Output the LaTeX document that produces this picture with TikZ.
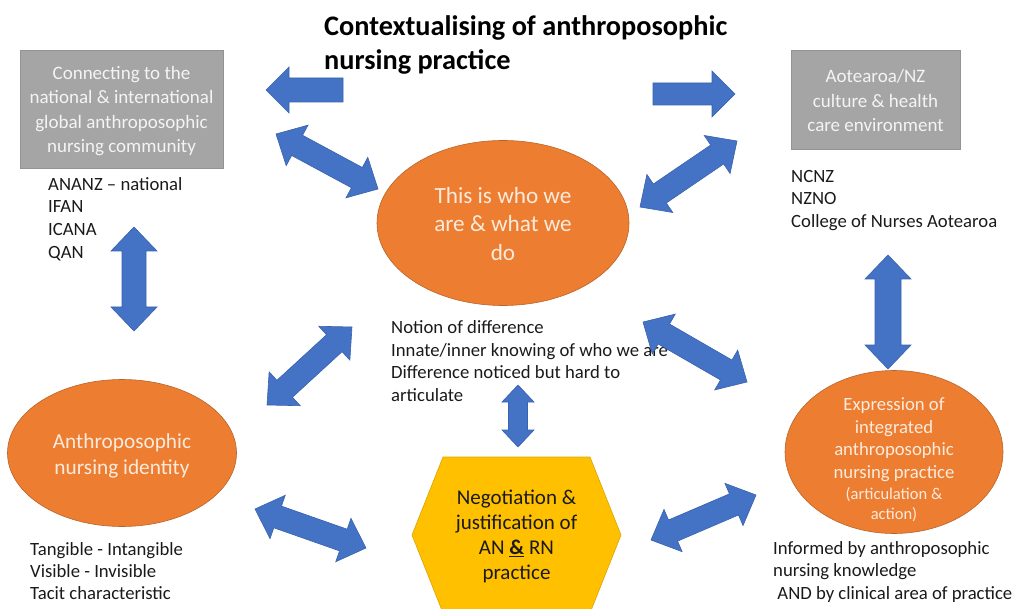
\documentclass[tikz,border=0pt]{standalone}
\usepackage{fontspec}
\setmainfont{Carlito}
\usetikzlibrary{shapes.geometric,calc}

\definecolor{arrowblue}{HTML}{4472C4}
\definecolor{arrowedge}{HTML}{3A62AE}
\definecolor{orangefill}{HTML}{ED7D31}
\definecolor{orangeedge}{HTML}{B8652A}
\definecolor{greyfill}{HTML}{A5A5A5}
\definecolor{greyedge}{HTML}{939393}
\definecolor{hexfill}{HTML}{FFC000}
\definecolor{hexedge}{HTML}{D9A400}
\definecolor{lighttext}{HTML}{F4F4F4}
\definecolor{creamtext}{HTML}{FBEBDD}
\definecolor{bodytext}{HTML}{1A1A1A}

% double-headed block arrow between two named points:
% #1,#2 ends, #3 head length, #4 head half-width, #5 shaft half-width
\newcommand\blockdbl[5]{%
  \path[blockarrow] (#1)
    -- ($(#1)!#3!(#2)!#4!90:(#2)$)
    -- ($(#1)!#3!(#2)!#5!90:(#2)$)
    -- ($(#2)!#3!(#1)!#5!-90:(#1)$)
    -- ($(#2)!#3!(#1)!#4!-90:(#1)$)
    -- (#2)
    -- ($(#2)!#3!(#1)!#4!90:(#1)$)
    -- ($(#2)!#3!(#1)!#5!90:(#1)$)
    -- ($(#1)!#3!(#2)!#5!-90:(#2)$)
    -- ($(#1)!#3!(#2)!#4!-90:(#2)$)
    -- cycle;}
% single-headed block arrow from tail #1 to tip #2
\newcommand\blocksgl[5]{%
  \path[blockarrow] ($(#1)!#5!90:(#2)$)
    -- ($(#2)!#3!(#1)!#5!-90:(#1)$)
    -- ($(#2)!#3!(#1)!#4!-90:(#1)$)
    -- (#2)
    -- ($(#2)!#3!(#1)!#4!90:(#1)$)
    -- ($(#2)!#3!(#1)!#5!90:(#1)$)
    -- ($(#1)!#5!-90:(#2)$)
    -- cycle;}

\tikzset{
  blockarrow/.style={fill=arrowblue, draw=arrowedge, line width=0.6pt, line join=miter},
  greybox/.style={rectangle, fill=greyfill, draw=greyedge, line width=0.6pt,
    text=lighttext, align=center, inner sep=0pt,
    font=\fontsize{19}{24.3}\selectfont},
  orangeoval/.style={ellipse, fill=orangefill, draw=orangeedge, line width=0.6pt,
    text=creamtext, align=center, inner sep=0pt},
  hexshape/.style={fill=hexfill, draw=hexedge, line width=0.6pt},
  listtext/.style={anchor=west, align=left, inner sep=0pt, text=bodytext,
    font=\fontsize{18.7}{22.8}\selectfont},
}

\begin{document}
\begin{tikzpicture}[x=1pt, y=-1pt]
\useasboundingbox (0,0) rectangle (1019,609);

% title
\node (title) [anchor=west, align=left, inner sep=0pt,
  font=\bfseries\fontsize{28.3}{34}\selectfont] at (324,45)
  {Contextualising of anthroposophic\\nursing practice};

% outer context boxes
\node (global) [greybox, minimum width=203pt, minimum height=118pt] at (121.5,109) {};
\node (globaltext) [greybox, draw=none, fill=none] at (121.5,111)
  {Connecting to the\\national \& international\\global anthroposophic\\nursing community};
\node (nz) [greybox, minimum width=169pt, minimum height=99pt] at (875.5,99.5) {};
\node (nztext) [greybox, draw=none, fill=none] at (875.5,100.5)
  {Aotearoa/NZ\\culture \& health\\care environment};

\node (globallist) [listtext] at (48,219)
  {ANANZ -- national\\IFAN\\ICANA\\QAN};
\node (nzlist) [listtext] at (791,200.5)
  {NCNZ\\NZNO\\College of Nurses Aotearoa};

% central identity ovals
\node (who) [orangeoval, minimum width=252pt, minimum height=165pt] at (503,223) {};
\node (whotext) [align=center, inner sep=0pt, text=creamtext,
  font=\fontsize{23.2}{28.3}\selectfont] at (503,224)
  {This is who we\\are \& what we\\do};
\node (whonotes) [listtext] at (391,361)
  {Notion of difference\\Innate/inner knowing of who we are\\Difference noticed but hard to\\articulate};

\node (identity) [orangeoval, minimum width=229pt, minimum height=147pt] at (122,453) {};
\node (identitytext) [align=center, inner sep=0pt, text=creamtext,
  font=\fontsize{21.3}{26}\selectfont] at (122,455.5)
  {Anthroposophic\\nursing identity};
\node (identitynotes) [listtext, font=\fontsize{18.7}{22}\selectfont] at (30,571)
  {Tangible - Intangible\\Visible - Invisible\\Tacit characteristic};

\node (expression) [orangeoval, minimum width=218pt, minimum height=163pt] at (894,452) {};
\node (expressiontext) [align=center, inner sep=0pt, text=creamtext,
  font=\fontsize{18.7}{22.7}\selectfont] at (894,459.5)
  {Expression of\\integrated\\anthroposophic\\nursing practice\\[-1.4pt]
   {\fontsize{16.5}{19.5}\selectfont (articulation \&}\\[-3.2pt]
   {\fontsize{16.5}{19.5}\selectfont action)}};
\node (expressionnotes) [listtext] at (773,572)
  {Informed by anthroposophic\\nursing knowledge\\\ AND by clinical area of practice};

% negotiation hexagon
\coordinate (hexc) at (516.5,535);
\draw[hexshape, shift={(hexc)}]
  (-73.5,-78) -- (73.5,-78) -- (104.5,0) -- (73.5,78) -- (-73.5,78) -- (-104.5,0) -- cycle;
\node (negotiation) [align=center, inner sep=0pt, text=bodytext,
  font=\fontsize{21}{25.2}\selectfont] at (516.5,536.5)
  {Negotiation \&\\justification of\\AN \underline{\textbf{\&}} RN\\practice};

% arrow end points
\coordinate (a1t) at (343,90);   \coordinate (a1h) at (266,90);
\coordinate (a2t) at (653,94);   \coordinate (a2h) at (735,94);
\coordinate (d1a) at (276,134);  \coordinate (d1b) at (378,189);
\coordinate (d2a) at (640,207);  \coordinate (d2b) at (737,141);
\coordinate (v1a) at (134,227);  \coordinate (v1b) at (134,331);
\coordinate (v2a) at (888,255);  \coordinate (v2b) at (888,369);
\coordinate (d3a) at (267,405);  \coordinate (d3b) at (352,327);
\coordinate (d4a) at (643,322);  \coordinate (d4b) at (747,382);
\coordinate (v3a) at (518,385);  \coordinate (v3b) at (518,447);
\coordinate (d5a) at (255,509);  \coordinate (d5b) at (366,548);
\coordinate (d6a) at (651,540);  \coordinate (d6b) at (756,495);

% block arrows
\blocksgl{a1t}{a1h}{23pt}{23pt}{12pt}
\blocksgl{a2t}{a2h}{23pt}{23pt}{11pt}
\blockdbl{d1a}{d1b}{24pt}{23pt}{11.5pt}
\blockdbl{d2a}{d2b}{24pt}{23pt}{11.5pt}
\blockdbl{v1a}{v1b}{24pt}{23pt}{12pt}
\blockdbl{v2a}{v2b}{24pt}{23pt}{13pt}
\blockdbl{d3a}{d3b}{24pt}{23pt}{11.5pt}
\blockdbl{d4a}{d4b}{24pt}{23pt}{11.5pt}
\blockdbl{v3a}{v3b}{17pt}{16pt}{9.5pt}
\blockdbl{d5a}{d5b}{24pt}{23pt}{11.5pt}
\blockdbl{d6a}{d6b}{24pt}{23pt}{11.5pt}
\end{tikzpicture}
\end{document}
